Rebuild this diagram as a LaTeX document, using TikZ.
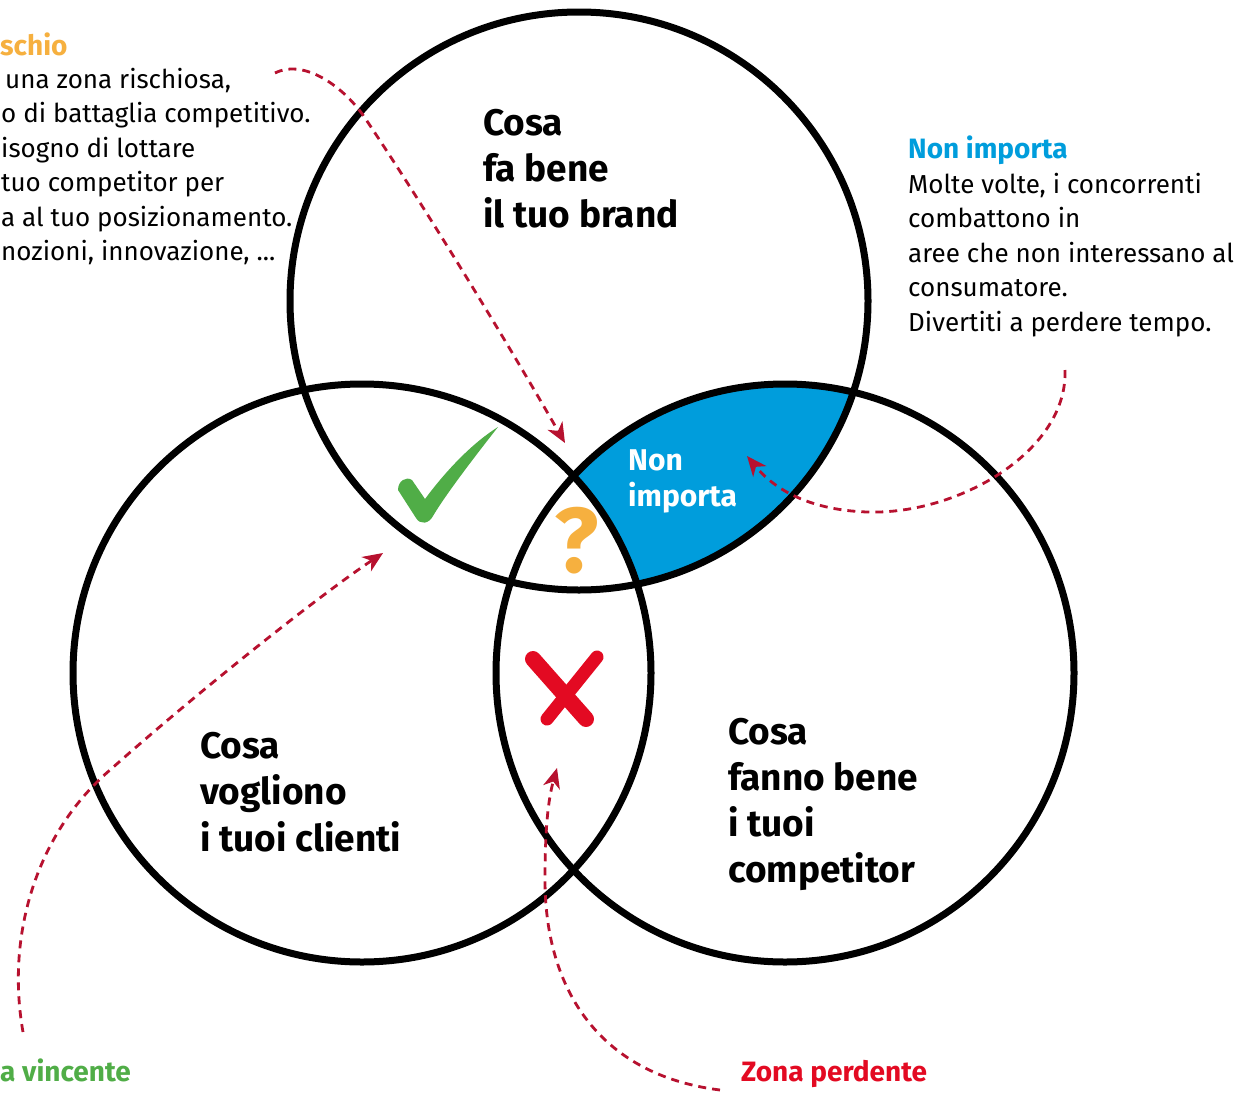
\documentclass[tikz,border=0pt]{standalone}
\usepackage{fontspec}
\setmainfont{Fira Sans}
\usetikzlibrary{arrows.meta}
\definecolor{venblue}{HTML}{009DDC}
\definecolor{venorange}{HTML}{F6B03F}
\definecolor{vengreen}{HTML}{50AD47}
\definecolor{venred}{HTML}{E30A22}
\definecolor{arrred}{HTML}{B7112F}
\begin{document}
\begin{tikzpicture}[x=1pt,y=-1pt,
  ring/.style={line width=7pt, draw=black},
  heading/.style={font=\bfseries\fontsize{37}{46}\selectfont, inner sep=0pt, anchor=base west},
  body/.style={font=\fontsize{26}{34}\selectfont, inner sep=0pt, anchor=base west},
  bodyhead/.style={font=\bfseries\fontsize{28}{34}\selectfont, inner sep=0pt, anchor=base west},
  callout/.style={draw=arrred, line width=2.8pt, dash pattern=on 8pt off 6pt, -{Stealth[length=20pt,width=17pt,inset=6pt]}},
]
\useasboundingbox (0,0) rectangle (1248,1095);
\fill[white] (0,0) rectangle (1248,1095);
\coordinate (cb) at (579,301);
\coordinate (cl) at (362,673);
\coordinate (cr) at (785,673);
% blue region
\begin{scope}
  \clip (cb) circle[radius=289pt];
  \clip (cr) circle[radius=289pt];
  \fill[venblue, even odd rule] (0,0) rectangle (1248,1095) (cl) circle[radius=289pt];
\end{scope}
% circles
\draw[ring] (cb) circle[radius=289pt];
\draw[ring] (cl) circle[radius=289pt];
\draw[ring] (cr) circle[radius=289pt];
% check mark
\fill[vengreen] (398,490) .. controls (398,481) and (406,476) .. (412,480)
  -- (425,499)
  .. controls (448,468) and (474,442) .. (498,427)
  .. controls (476,455) and (446,494) .. (433,516)
  .. controls (429,524) and (420,525) .. (416,518)
  -- cycle;
% cross
\draw[venred, line width=16pt, line cap=round] (533,659) -- (586,719);
\draw[venred, line width=13pt, line cap=round] (597,657) -- (547,719);
% question mark
\node[font=\bfseries\fontsize{92}{92}\selectfont, text=venorange, inner sep=0pt] (qm) at (577,541) {?};
% headings in circles
\foreach \t [count=\i from 0] in {Cosa,fa bene,il tuo brand}
  \node[heading] (tb\i) at (483,{135+46*\i}) {\t};
\foreach \t [count=\i from 0] in {Cosa,vogliono,i tuoi clienti}
  \node[heading] (tl\i) at (200,{758+46.5*\i}) {\t};
\foreach \t [count=\i from 0] in {Cosa,fanno bene,i tuoi,competitor}
  \node[heading] (tr\i) at (728,{744.5+46*\i}) {\t};
\node[bodyhead, text=white, font=\bfseries\fontsize{30}{34}\selectfont] (ni0) at (628,470) {Non};
\node[bodyhead, text=white, font=\bfseries\fontsize{30}{34}\selectfont] (ni1) at (628,506) {importa};
% left top text
\node[bodyhead, text=venorange] (rh) at (0,55) {schio};
\node[body] (rl0) at (5,88) {una zona rischiosa,};
\node[body] (rl1) at (1,122.5) {o di battaglia competitivo.};
\node[body] (rl2) at (1,157) {isogno di lottare};
\node[body] (rl3) at (1,191.5) {tuo competitor per};
\node[body] (rl4) at (1,226) {a al tuo posizionamento.};
\node[body] (rl5) at (1,260.5) {nozioni, innovazione, ...};
% right text
\node[bodyhead, text=venblue] (nh) at (908,158) {Non importa};
\node[body] (nl0) at (908,193) {Molte volte, i concorrenti};
\node[body] (nl1) at (908,227.5) {combattono in};
\node[body] (nl2) at (908,262) {aree che non interessano al};
\node[body] (nl3) at (908,296.5) {consumatore.};
\node[body] (nl4) at (908,331) {Divertiti a perdere tempo.};
% bottom texts
\node[bodyhead, text=vengreen] (vh) at (0,1081) {a vincente};
\node[bodyhead, text=venred] (ph) at (741,1081) {Zona perdente};
% callout arrows
\coordinate (r0) at (275,73);
\coordinate (r1) at (565,443);
\draw[callout] (r0) .. controls (305,58) and (345,88) .. (365,118) .. controls (420,200) and (500,330) .. (r1);
\coordinate (n0) at (1065,370);
\coordinate (n1) at (747,456);
\draw[callout] (n0) .. controls (1068,450) and (960,515) .. (867,512) .. controls (810,510) and (775,490) .. (n1);
\coordinate (v0) at (23,1032);
\coordinate (v1) at (383,553);
\draw[callout] (v0) .. controls (5,930) and (40,830) .. (110,770) .. controls (200,690) and (320,595) .. (v1);
\coordinate (p0) at (720,1090);
\coordinate (p1) at (557,768);
\draw[callout] (p0) .. controls (600,1075) and (545,990) .. (545,880) .. controls (545,830) and (548,800) .. (p1);
\end{tikzpicture}
\end{document}
